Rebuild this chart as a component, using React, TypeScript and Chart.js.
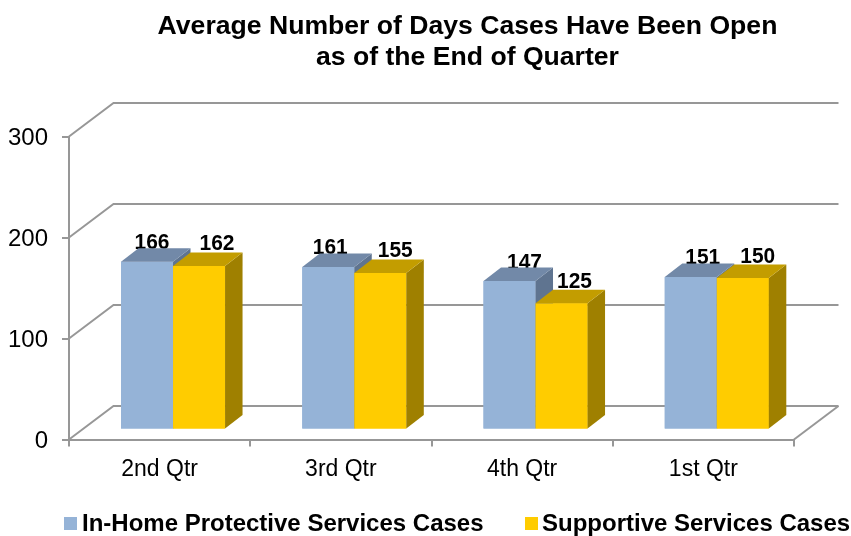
import React, { useEffect, useRef } from "react";
import { Chart, registerables } from "chart.js";

Chart.register(...registerables);

const titleLines = ["Average Number of Days Cases Have Been Open", "as of the End of Quarter"];
const categories = ["2nd Qtr", "3rd Qtr", "4th Qtr", "1st Qtr"];
const inHomeValues = [166, 161, 147, 151];
const supportiveValues = [162, 155, 125, 150];
const seriesNames = ["In-Home Protective Services Cases", "Supportive Services Cases"];
const yTicks = [0, 100, 200, 300];

const FONT = '"Liberation Sans", Arial, sans-serif';
const GRID = "#979797";
const FACES = [
  { front: "#95B3D7", top: "#7289A8", side: "#5F7490" },
  { front: "#FFCC00", top: "#C39D00", side: "#9F8000" },
];
const WALL = { dx: 44.5, dy: -33.5 };
const BAR_SHIFT = { x: 13.4, y: -10 };
const BAR_DEPTH = { dx: 17.5, dy: -13.5 };
const LABEL_SHIFT = [
  [5, 18],
  [2, 15],
  [15, 13],
  [12, 15],
];
const LABEL_RISE = [-1, 2];
const LEGEND_LAYOUT = [
  { box: 64, text: 82 },
  { box: 525, text: 542 },
];

const poly = (ctx: CanvasRenderingContext2D, pts: number[][], fill: string) => {
  ctx.beginPath();
  pts.forEach((p, i) => (i ? ctx.lineTo(p[0], p[1]) : ctx.moveTo(p[0], p[1])));
  ctx.closePath();
  ctx.fillStyle = fill;
  ctx.fill();
};

const scene = {
  id: "scene3d",
  beforeDatasetsDraw(chart: any) {
    const { ctx, scales, chartArea } = chart;
    const { left, right } = chartArea;
    ctx.save();
    ctx.strokeStyle = GRID;
    ctx.lineWidth = 2;
    yTicks.forEach((v) => {
      const y = scales.y.getPixelForValue(v);
      ctx.beginPath();
      ctx.moveTo(left, y);
      ctx.lineTo(left + WALL.dx, y + WALL.dy);
      ctx.lineTo(right + WALL.dx, y + WALL.dy);
      ctx.stroke();
    });
    const y0 = scales.y.getPixelForValue(0);
    ctx.beginPath();
    ctx.moveTo(right, y0);
    ctx.lineTo(right + WALL.dx, y0 + WALL.dy);
    ctx.stroke();
    ctx.restore();
    ctx.save();
    ctx.translate(BAR_SHIFT.x, BAR_SHIFT.y);
  },
  afterDatasetsDraw(chart: any) {
    const { ctx } = chart;
    const metas = [chart.getDatasetMeta(0), chart.getDatasetMeta(1)];
    ctx.fillStyle = "#000";
    ctx.font = `bold 22px ${FONT}`;
    ctx.textAlign = "center";
    ctx.textBaseline = "alphabetic";
    metas.forEach((meta, d) => {
      meta.data.forEach((el: any, i: number) => {
        const { x, y } = el.getProps(["x", "y"], true);
        ctx.save();
        ctx.translate(x + LABEL_SHIFT[i][d], y + BAR_DEPTH.dy - LABEL_RISE[d]);
        ctx.scale(0.95, 1);
        ctx.fillText(String(chart.data.datasets[d].data[i]), 0, 0);
        ctx.restore();
      });
    });
    metas.forEach((meta, d) => {
      meta.data.forEach((el: any) => {
        const { x, y, base, width } = el.getProps(["x", "y", "base", "width"], true);
        const l = x - width / 2;
        const r = x + width / 2;
        const { dx, dy } = BAR_DEPTH;
        el.draw(ctx);
        poly(ctx, [[r, y], [r + dx, y + dy], [r + dx, base + dy], [r, base]], FACES[d].side);
        poly(ctx, [[l, y], [l + dx, y + dy], [r + dx, y + dy], [r, y]], FACES[d].top);
      });
    });
    ctx.restore();
  },
  afterDraw(chart: any) {
    const { ctx } = chart;
    ctx.save();
    ctx.fillStyle = "#000";
    ctx.font = `bold 26.6px ${FONT}`;
    ctx.textAlign = "center";
    ctx.textBaseline = "alphabetic";
    titleLines.forEach((t, i) => ctx.fillText(t, 467.5, 34 + i * 31));
    ctx.font = `bold 24px ${FONT}`;
    ctx.textAlign = "left";
    chart.data.datasets.forEach((ds: any, i: number) => {
      ctx.fillStyle = FACES[i].front;
      ctx.fillRect(LEGEND_LAYOUT[i].box, 517, 13, 13);
      ctx.fillStyle = "#000";
      ctx.fillText(ds.label, LEGEND_LAYOUT[i].text, 531);
    });
    ctx.restore();
  },
};

export default function App() {
  const ref = useRef<HTMLCanvasElement>(null);
  useEffect(() => {
    const chart = new Chart(ref.current!, {
      type: "bar",
      data: {
        labels: categories,
        datasets: [
          { label: seriesNames[0], data: inHomeValues, backgroundColor: FACES[0].front },
          { label: seriesNames[1], data: supportiveValues, backgroundColor: FACES[1].front },
        ],
      },
      plugins: [scene],
      options: {
        responsive: false,
        animation: false,
        devicePixelRatio: 1,
        layout: { padding: { top: 136.5, right: 57, left: 0, bottom: 0 } },
        datasets: { bar: { categoryPercentage: 0.574, barPercentage: 1, borderWidth: 0 } },
        plugins: { legend: { display: false }, title: { display: false }, tooltip: { enabled: false } },
        scales: {
          x: {
            afterFit: (s: any) => { s.height = 96.5; },
            border: { color: GRID, width: 2 },
            grid: { drawOnChartArea: false, drawTicks: true, tickLength: 7, color: GRID, lineWidth: 2 },
            ticks: { color: "#000", font: { family: FONT, size: 23 }, padding: 9, maxRotation: 0 },
          },
          y: {
            min: 0,
            max: 300,
            afterFit: (s: any) => { s.width = 69; },
            afterBuildTicks: (s: any) => { s.ticks = yTicks.map((value) => ({ value })); },
            border: { color: GRID, width: 2 },
            grid: { drawOnChartArea: false, drawTicks: true, tickLength: 7, color: GRID, lineWidth: 2 },
            ticks: { color: "#000", font: { family: FONT, size: 24 }, padding: 14, labelOffset: 2 },
          },
        },
      },
    } as any);
    return () => chart.destroy();
  }, []);
  return (
    <div style={{ position: "absolute", left: 0, top: 0, width: 851, height: 536 }}>
      <canvas ref={ref} width={851} height={536} style={{ display: "block" }} />
    </div>
  );
}
